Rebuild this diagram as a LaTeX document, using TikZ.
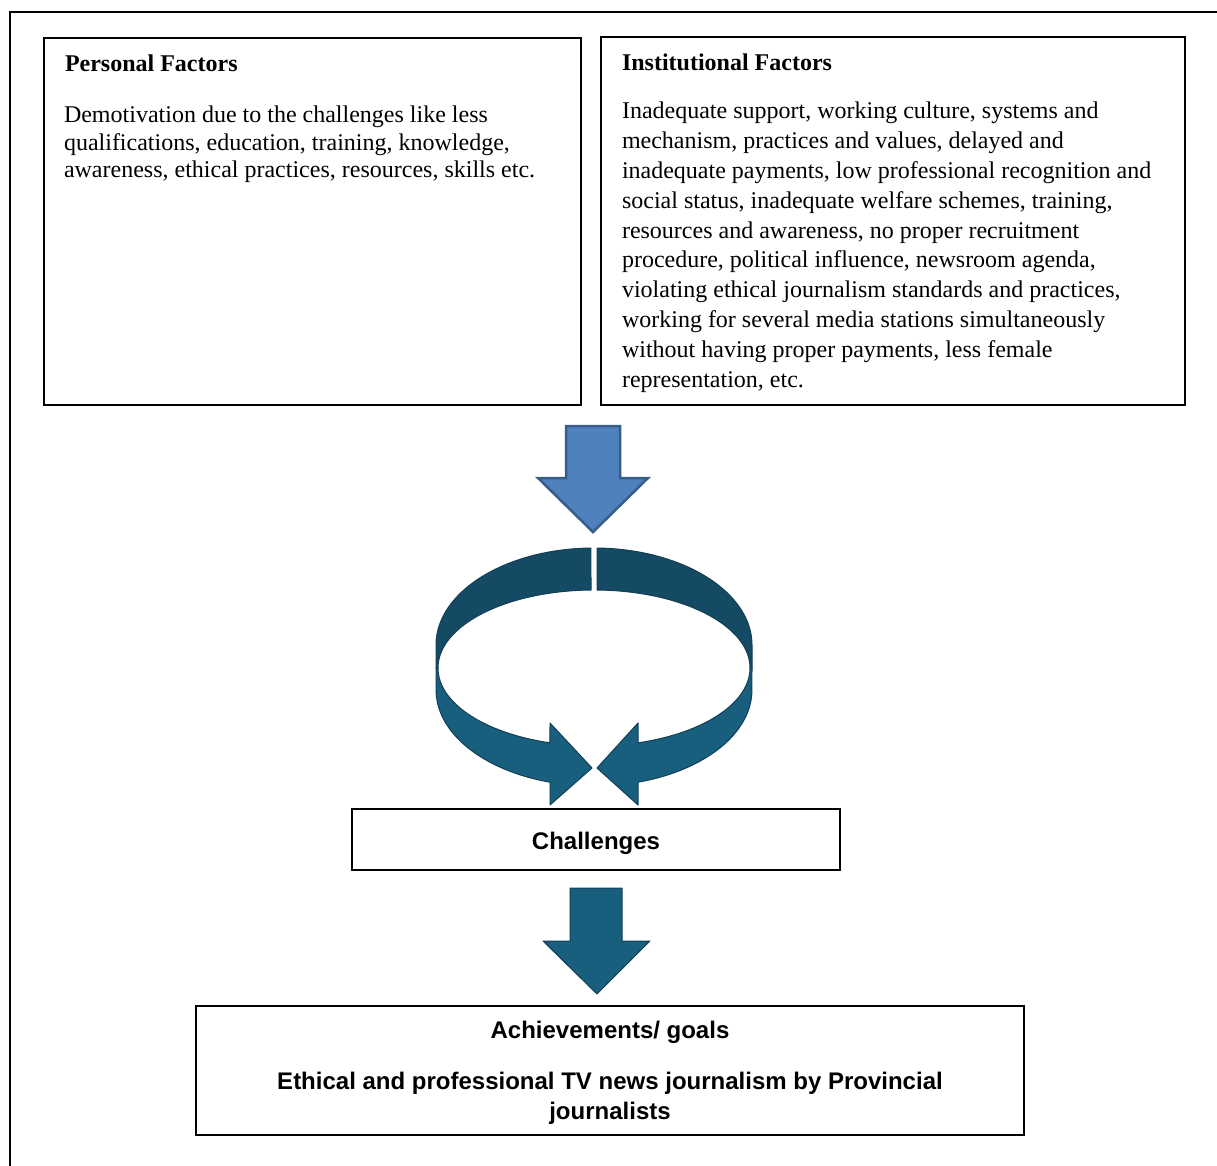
\documentclass[tikz,border=0pt]{standalone}
\usepackage{fontspec}
\setmainfont{Liberation Serif}
\setsansfont{Liberation Sans}
\definecolor{topfill}{HTML}{4F81BD}
\definecolor{topline}{HTML}{385D8A}
\definecolor{ringback}{HTML}{154A64}
\definecolor{ringfront}{HTML}{185E7D}
\definecolor{ringline}{HTML}{123F56}
\begin{document}
\begin{tikzpicture}[x=1pt,y=1pt,
  frame/.style={draw=black, line width=1.5pt, inner sep=0pt, outer sep=0pt},
  txt/.style={inner sep=0pt, outer sep=0pt},
  back/.style={fill=ringback, draw=ringline, line width=1pt, line join=round},
  front/.style={fill=ringfront, draw=ringline, line width=1pt, line join=round}]
\useasboundingbox (0,0) rectangle (1217,-1166);
\clip (0,0) rectangle (1217,-1166);
% outer frame
\draw[line width=2.5pt] (10,-1200) -- (10,-12) -- (1240,-12);
% boxes
\node[frame, minimum width=537pt, minimum height=367pt] (personal) at (312.5,-221.5) {};
\node[frame, minimum width=584pt, minimum height=368pt] (institutional) at (893,-221) {};
\node[frame, minimum width=488pt, minimum height=61pt] (challenges) at (596,-839.5) {};
\node[frame, minimum width=828pt, minimum height=129pt] (goals) at (610,-1070.5) {};
% texts
\node[txt, anchor=base west] (ptitle) at (65,-72) {\fontsize{24}{27.6}\selectfont\bfseries Personal Factors};
\node[txt, anchor=base west] (ptext) at (64,-122.5) {\parbox[t]{530pt}{\raggedright\fontsize{24}{27.6}\selectfont
Demotivation due to the challenges like less\\
qualifications, education, training, knowledge,\\
awareness, ethical practices, resources, skills etc.}};
\node[txt, anchor=base west] (ititle) at (622,-71) {\fontsize{24}{27.6}\selectfont\bfseries Institutional Factors};
\node[txt, anchor=base west] (itext) at (622,-119) {\parbox[t]{560pt}{\raggedright\fontsize{24}{29.8}\selectfont
Inadequate support, working culture, systems and\\
mechanism, practices and values, delayed and\\
inadequate payments, low professional recognition and\\
social status, inadequate welfare schemes, training,\\
resources and awareness, no proper recruitment\\
procedure, political influence, newsroom agenda,\\
violating ethical journalism standards and practices,\\
working for several media stations simultaneously\\
without having proper payments, less female\\
representation, etc.}};
\node[txt, anchor=base] (ctext) at (596,-849) {\sffamily\bfseries\fontsize{24}{30}\selectfont Challenges};
\node[txt, anchor=base] (gtitle) at (610,-1038) {\sffamily\bfseries\fontsize{24}{30}\selectfont Achievements/ goals};
\node[txt, anchor=base] (gtext) at (610,-1089) {\parbox[t]{800pt}{\centering\sffamily\bfseries\fontsize{24}{30}\selectfont
Ethical and professional TV news journalism by Provincial\\
journalists}};
% top block arrow
\draw[fill=topfill, draw=topline, line width=2.5pt, line join=miter]
  (566,-426) -- (620,-426) -- (620,-478) -- (648,-478) -- (593,-532) -- (538,-478) -- (566,-478) -- cycle;
% circular arrow: back parts
\draw[back] (436,-668) -- (436,-645) arc[start angle=180, end angle=91.1, x radius=158pt, y radius=97pt]
  -- (591,-590) arc[start angle=91.1, end angle=180, x radius=156pt, y radius=78pt] -- cycle;
\draw[back] (752,-668) -- (752,-645) arc[start angle=0, end angle=88.9, x radius=158pt, y radius=97pt]
  -- (597,-590) arc[start angle=88.9, end angle=0, x radius=156pt, y radius=78pt] -- cycle;
% circular arrow: front parts
\draw[front] (438,-668) arc[start angle=180, end angle=253.6, x radius=156pt, y radius=78pt]
  -- (550,-723) -- (592,-768) -- (550,-805) -- (550,-782.2)
  arc[start angle=253.8, end angle=180, x radius=158pt, y radius=96pt] -- (436,-668) -- cycle;
\draw[front] (750,-668) arc[start angle=0, end angle=-73.6, x radius=156pt, y radius=78pt]
  -- (638,-723) -- (597,-768) -- (638,-805) -- (638,-782.2)
  arc[start angle=-73.8, end angle=0, x radius=158pt, y radius=96pt] -- (752,-668) -- cycle;
% bottom block arrow
\draw[front]
  (570,-888) -- (622,-888) -- (622,-941) -- (650,-941) -- (597,-994) -- (543,-941) -- (570,-941) -- cycle;
\end{tikzpicture}
\end{document}
